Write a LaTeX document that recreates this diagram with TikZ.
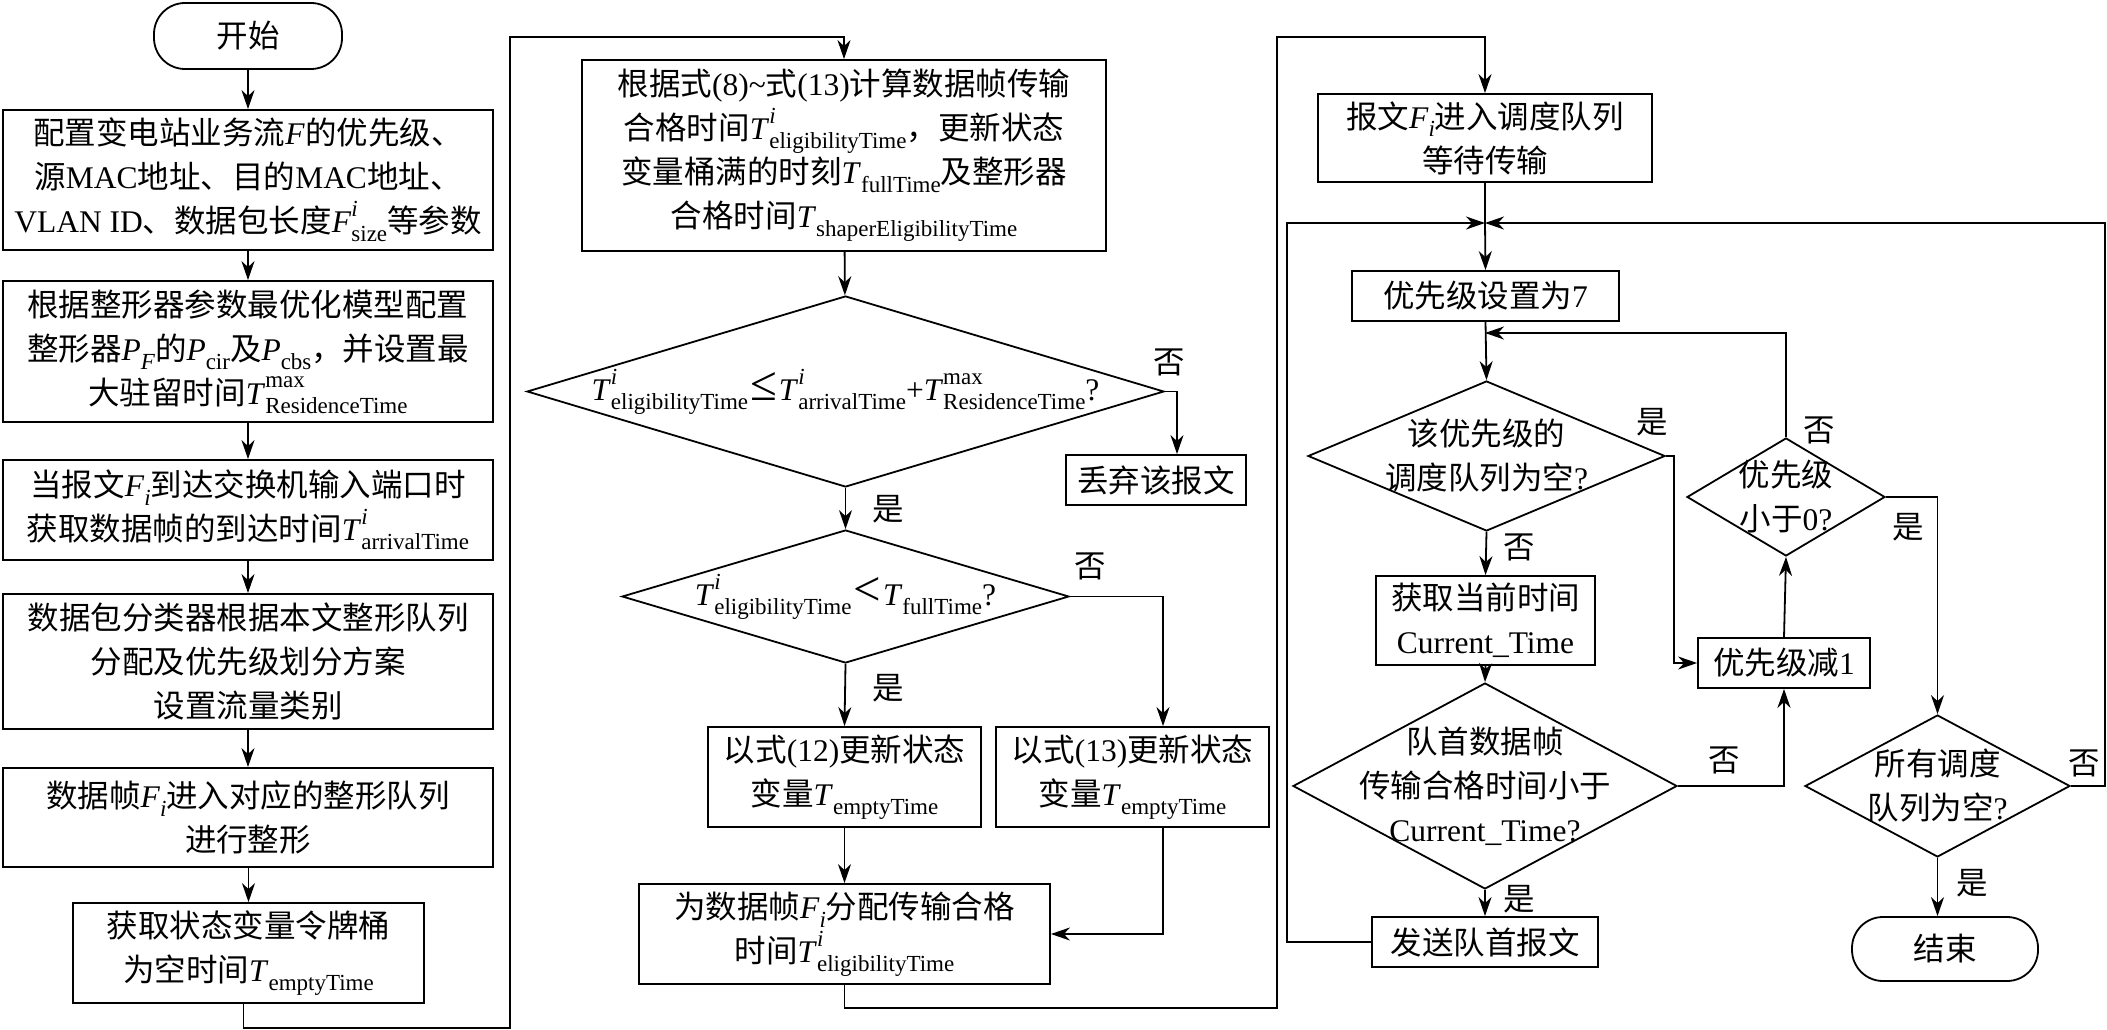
\documentclass[tikz,border=0pt]{standalone}
\usepackage{fontspec}
\setmainfont{Noto Sans CJK SC}
\newfontfamily\tnr{Liberation Serif}
\usetikzlibrary{arrows.meta,shapes.geometric}
\newcommand{\fs}{\fontsize{31.5}{44}\selectfont\lineskiplimit=-60pt\relax}
\newcommand{\subsz}{\fontsize{23}{23}\selectfont}
\newcommand{\vsup}[3]{{\tnr\textit{#1}\rlap{\raisebox{0.52em}{\subsz #2}}\raisebox{-0.28em}{\subsz #3}}}
\newcommand{\vsub}[2]{{\tnr\textit{#1}\raisebox{-0.28em}{\subsz #2}}}
\newcommand{\la}[1]{{\tnr #1}}
\newcommand{\relsym}[1]{{\tnr\kern2pt\scalebox{1.55}{#1}\kern2pt}}
\tikzset{
  base/.style={draw, line width=1.8pt, inner sep=0pt, align=center, font=\fs},
  proc/.style={base, rectangle},
  term/.style={base, rectangle, rounded corners=31pt},
  dia/.style={draw, line width=1.8pt, diamond, inner sep=0pt},
  dtext/.style={inner sep=0pt, align=center, font=\fs},
  lbl/.style={inner sep=0pt, font=\fs},
  ln/.style={line width=1.8pt},
  arr/.style={line width=1.8pt, -{Stealth[length=19pt,width=13pt,inset=6pt]}},
}
\begin{document}
\begin{tikzpicture}[x=1pt,y=-1pt]
\useasboundingbox (0,0) rectangle (2107,1030);
% ---------- left column ----------
\node[term, minimum width=188pt, minimum height=66pt] (st) at (248,36) {开始};
\node[proc, minimum width=490pt, minimum height=140pt] (b1) at (248,180)
  {配置变电站业务流\la{\textit{F}}的优先级、\\源\la{MAC}地址、目的\la{MAC}地址、\\\la{VLAN ID}、数据包长度\vsup{F}{\textit{i}}{size}等参数};
\node[proc, minimum width=490pt, minimum height=141pt] (b2) at (248,351.5)
  {根据整形器参数最优化模型配置\\整形器\vsub{P}{\textit{F}}的\vsub{P}{cir}及\vsub{P}{cbs}，并设置最\\大驻留时间\vsup{T}{max}{ResidenceTime}};
\node[proc, minimum width=490pt, minimum height=100pt] (b3) at (248,510)
  {当报文\vsub{F}{\textit{i}}到达交换机输入端口时\\获取数据帧的到达时间\vsup{T}{\textit{i}}{arrivalTime}};
\node[proc, minimum width=490pt, minimum height=135pt] (b4) at (248,661.5)
  {数据包分类器根据本文整形队列\\分配及优先级划分方案\\设置流量类别};
\node[proc, minimum width=490pt, minimum height=99pt] (b5) at (248,817.5)
  {数据帧\vsub{F}{\textit{i}}进入对应的整形队列\\进行整形};
\node[proc, minimum width=351pt, minimum height=100pt] (b6) at (248.5,953)
  {获取状态变量令牌桶\\为空时间\vsub{T}{emptyTime}};
% ---------- middle column ----------
\node[proc, minimum width=524pt, minimum height=191pt] (b7) at (844,155.5)
  {根据式\la{(8)\textasciitilde}式\la{(13)}计算数据帧传输\\合格时间\vsup{T}{\textit{i}}{eligibilityTime}，更新状态\\变量桶满的时刻\vsub{T}{fullTime}及整形器\\合格时间\vsub{T}{shaperEligibilityTime}};
\node[dia, minimum width=637pt, minimum height=191pt] (d1) at (845.5,391.5) {};
\node[dtext] (d1t) at (d1) {\vsup{T}{\textit{i}}{eligibilityTime}\relsym{≤}\vsup{T}{\textit{i}}{arrivalTime}\la{+}\vsup{T}{max}{ResidenceTime}\la{?}};
\node[proc, minimum width=180pt, minimum height=50pt] (disc) at (1156,480) {丢弃该报文};
\node[dia, minimum width=447pt, minimum height=133pt] (d2) at (845.5,596.5) {};
\node[dtext] (d2t) at (d2) {\vsup{T}{\textit{i}}{eligibilityTime}\relsym{<}\vsub{T}{fullTime}\la{?}};
\node[proc, minimum width=273pt, minimum height=100pt] (b8) at (844.5,777)
  {以式\la{(12)}更新状态\\变量\vsub{T}{emptyTime}};
\node[proc, minimum width=273pt, minimum height=100pt] (b9) at (1132.5,777)
  {以式\la{(13)}更新状态\\变量\vsub{T}{emptyTime}};
\node[proc, minimum width=411pt, minimum height=100pt] (b10) at (844.5,934)
  {为数据帧\vsub{F}{\textit{i}}分配传输合格\\时间\vsup{T}{\textit{i}}{eligibilityTime}};
% ---------- right column ----------
\node[proc, minimum width=334pt, minimum height=88pt] (b11) at (1485,138)
  {报文\vsub{F}{\textit{i}}进入调度队列\\等待传输};
\node[proc, minimum width=267pt, minimum height=50pt] (b12) at (1485.5,296) {优先级设置为\la{7}};
\node[dia, minimum width=357pt, minimum height=150pt] (d3) at (1486.5,456) {};
\node[dtext] (d3t) at (d3) {该优先级的\\调度队列为空\la{?}};
\node[proc, minimum width=219pt, minimum height=89pt] (b14) at (1485.5,620.5)
  {获取当前时间\\\la{Current\_Time}};
\node[dia, minimum width=384pt, minimum height=206pt] (d5) at (1485,786) {};
\node[dtext] (d5t) at (d5) {队首数据帧\\传输合格时间小于\\\la{Current\_Time?}};
\node[proc, minimum width=226pt, minimum height=50pt] (b15) at (1485,942) {发送队首报文};
\node[dia, minimum width=198pt, minimum height=118pt] (d4) at (1786,497) {};
\node[dtext] (d4t) at (d4) {优先级\\小于\la{0?}};
\node[proc, minimum width=172pt, minimum height=50pt] (b13) at (1784,663) {优先级减\la{1}};
\node[dia, minimum width=265pt, minimum height=142pt] (d6) at (1937.5,786) {};
\node[dtext] (d6t) at (d6) {所有调度\\队列为空\la{?}};
\node[term, minimum width=186pt, minimum height=64pt] (en) at (1945,949) {结束};
\coordinate (j1) at (1485,223);
\coordinate (j2) at (1485,333);
% ---------- labels ----------
\node[lbl] (l1) at (1169,362) {否};
\node[lbl] (l2) at (888,509) {是};
\node[lbl] (l3) at (1090,566) {否};
\node[lbl] (l4) at (888,688) {是};
\node[lbl] (l5) at (1652,422) {是};
\node[lbl] (l6) at (1519,547) {否};
\node[lbl] (l7) at (1724,760) {否};
\node[lbl] (l8) at (1519,899) {是};
\node[lbl] (l9) at (1819,430) {否};
\node[lbl] (l10) at (1908,527) {是};
\node[lbl] (l11) at (2084,763) {否};
\node[lbl] (l12) at (1972,883) {是};
% ---------- connectors ----------
\draw[arr] (st) -- (b1);
\draw[arr] (b1) -- (b2);
\draw[arr] (b2) -- (b3);
\draw[arr] (b3) -- (b4);
\draw[arr] (b4) -- (b5);
\draw[arr] (b5.south -| b6.north) -- (b6.north);
\draw[arr] ([xshift=-5pt]b6.south) |- (510,1028) -- (510,37) -| (b7.north);
\draw[arr] (b7) -- (d1);
\draw[arr] (d1.east) -| ([xshift=21pt]disc.north);
\draw[arr] (d1.south) -- (d2.north);
\draw[arr] (d2.east) -| ([xshift=30.5pt]b9.north);
\draw[arr] (d2.south) -- (b8.north);
\draw[arr] (b8) -- (b10);
\draw[arr] ([xshift=30.5pt]b9.south) |- (b10.east);
\draw[arr] (b10.south) |- (1277,1008) -- (1277,37) -| (b11.north);
\draw[ln] (b11.south) -- (j1);
\draw[arr] (j1) -- (b12.north);
\draw[arr] (b15.west) -| (1287,223) -- (j1);
\draw[arr] (d6.east) -| (2105,223) -- (j1);
\draw[arr] (b12.south) -- (d3.north);
\draw[arr] (d4.north) |- (j2);
\draw[arr] (d3.east) -- ++(8,0) |- (b13.west);
\draw[arr] (d3.south) -- (b14.north);
\draw[arr] (b14.south) -- (d5.north);
\draw[arr] (d5.east) -| (b13.south);
\draw[arr] (d5.south) -- (b15.north);
\draw[arr] (b13.north) -- (d4.south);
\draw[arr] (d4.east) -| (d6.north);
\draw[arr] (d6.south) -- (d6.south |- en.north);
\end{tikzpicture}
\end{document}
